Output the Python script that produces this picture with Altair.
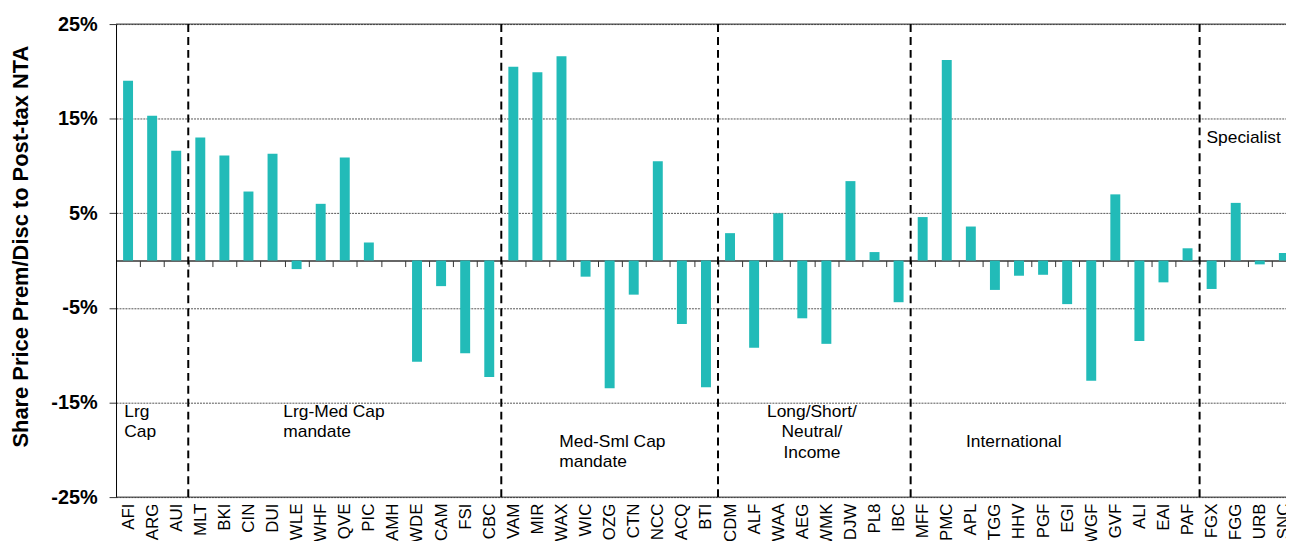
import json
import altair as alt
import pandas as pd

FONT = "Liberation Sans"
TEAL = "#22BBB8"

# ---- data ----
group_labels = [["Lrg", "Cap"], ["Lrg-Med Cap", "mandate"], ["Med-Sml Cap", "mandate"],
                ["Long/Short/", "Neutral/", "Income"], ["International"], ["Specialist"]]
codes_lrg = ["AFI", "ARG", "AUI"]
vals_lrg = [19.0, 15.3, 11.6]
codes_lrgmed = ["MLT", "BKI", "CIN", "DUI", "WLE", "WHF", "QVE", "PIC", "AMH", "WDE", "CAM", "FSI", "CBC"]
vals_lrgmed = [13.0, 11.1, 7.3, 11.3, -0.9, 6.0, 10.9, 1.9, 0.0, -10.7, -2.7, -9.8, -12.3]
codes_medsml = ["VAM", "MIR", "WAX", "WIC", "OZG", "CTN", "NCC", "ACQ", "BTI"]
vals_medsml = [20.5, 19.9, 21.6, -1.7, -13.5, -3.6, 10.5, -6.7, -13.4]
codes_ls = ["CDM", "ALF", "WAA", "AEG", "WMK", "DJW", "PL8", "IBC"]
vals_ls = [2.9, -9.2, 5.0, -6.1, -8.8, 8.4, 0.9, -4.4]
codes_int = ["MFF", "PMC", "APL", "TGG", "HHV", "PGF", "EGI", "WGF", "GVF", "ALI", "EAI", "PAF"]
vals_int = [4.6, 21.2, 3.6, -3.1, -1.6, -1.5, -4.6, -12.7, 7.0, -8.5, -2.3, 1.3]
codes_spec = ["FGX", "FGG", "URB", "SNC"]
vals_spec = [-3.0, 6.1, -0.4, 0.8]
y_ticks = [-25, -15, -5, 5, 15, 25]
frame_vals = [25, -25]

code_groups = [codes_lrg, codes_lrgmed, codes_medsml, codes_ls, codes_int, codes_spec]
val_groups = [vals_lrg, vals_lrgmed, vals_medsml, vals_ls, vals_int, vals_spec]
codes = [c for g in code_groups for c in g]
vals = [v for g in val_groups for v in g]
n = len(codes)
df = pd.DataFrame({"code": codes, "val": vals, "pos": [i + 0.5 for i in range(n)]})
bounds = []
acc = 0
for g in code_groups[:-1]:
    acc += len(g)
    bounds.append(acc)
df_div = pd.DataFrame({"b": bounds})
df_frame = pd.DataFrame({"val": frame_vals})

# ---- layout ----
W = 1177.3
H = 476
STEP = 24.23  # px per category slot
xscale = alt.Scale(domain=[0, W / STEP], nice=False, zero=False, padding=0)
yscale = alt.Scale(domain=[-25, 25], nice=False, zero=False, padding=0)

label_axis = alt.Axis(orient="bottom", values=[i + 0.5 for i in range(n)],
                      labelExpr=json.dumps(codes) + "[floor(datum.value)]",
                      labelAngle=270, labelAlign="right", labelBaseline="middle",
                      labelPadding=6, labelFontSize=17, labelFont=FONT, labelColor="black",
                      labelFlush=False, labelBound=False,
                      ticks=False, domain=False, title=None, labelOverlap=False, labelLimit=300,
                      grid=False)
zero_axis = alt.Axis(orient="bottom", offset=-H / 2, values=list(range(n + 1)), labels=False,
                     ticks=True, tickSize=6, tickColor="#333333", tickWidth=1, domain=True,
                     domainColor="#333333", domainWidth=1.5, title=None, grid=False)
y_axis = alt.Axis(orient="left", values=y_ticks, labelExpr="datum.value + '%'", labelFont=FONT,
                  labelFontSize=20, labelFontWeight="bold", labelColor="black", labelPadding=12,
                  tickSize=7, tickColor="#333333", domain=True, domainColor="black", domainWidth=1,
                  grid=True, gridColor="#555555", gridDash=[2, 1], gridWidth=1,
                  title="Share Price Prem/Disc to Post-tax NTA", titleFont=FONT, titleFontSize=22,
                  titleFontWeight="bold", titleColor="black", titleAngle=270, titleAlign="center",
                  titleBaseline="alphabetic", titleX=-88.7, titleY=223.5)

bars = alt.Chart(df).mark_bar(size=10, color=TEAL).encode(
    x=alt.X("pos:Q", scale=xscale, axis=label_axis),
    y=alt.Y("val:Q", scale=yscale, axis=y_axis),
)

frame = alt.Chart(df_frame).mark_rule(color="#333333", strokeWidth=1).encode(
    y=alt.Y("val:Q", scale=yscale, axis=y_axis),
)

divs = alt.Chart(df_div).mark_rule(color="black", strokeWidth=2, strokeDash=[8, 5]).encode(
    x=alt.X("b:Q", scale=xscale, axis=zero_axis),
)

ann_pos = [  # (x px, first-baseline y px, align)
    (8.3, 395.5, "left"),
    (168.3, 395.5, "left"),
    (446.0, 425.5, "left"),
    (700.3, 395.5, "center"),
    (855.3, 425.5, "left"),
    (1097.3, 119.5, "left"),
]
texts = []
for lines, (px, py, al) in zip(group_labels, ann_pos):
    texts.append(
        alt.Chart(pd.DataFrame({"a": [0]})).mark_text(
            text=lines, align=al, baseline="alphabetic", font=FONT, fontSize=17.5,
            lineHeight=20.5, color="black"
        ).encode(x=alt.value(px), y=alt.value(py))
    )

chart = alt.layer(bars, frame, divs, *texts).resolve_scale(x="shared", y="shared").resolve_axis(
    x="independent"
).properties(
    width=W, height=H,
    autosize=alt.AutoSizeParams(type="none"),
    padding={"left": 108.7, "top": 14.5, "right": 0, "bottom": 42.5},
).configure_view(stroke=None)

chart.save("out.html", embed_options={"renderer": "svg", "actions": False})
